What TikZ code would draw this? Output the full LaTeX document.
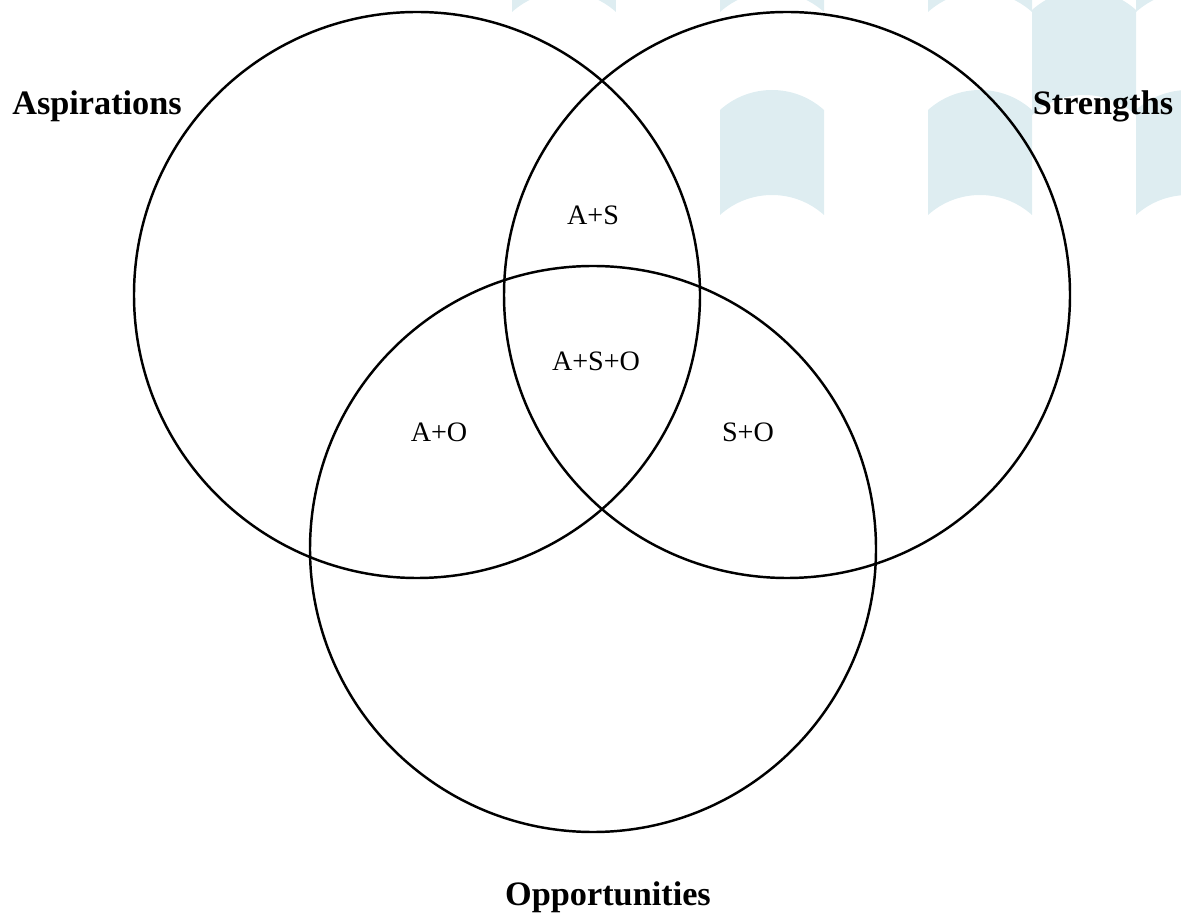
\documentclass[tikz,border=0pt]{standalone}
\usepackage{fontspec}
\setmainfont{Liberation Serif}

\definecolor{wmblue}{RGB}{222,237,241}

% one tile of the faint background pattern, (#1,#2) = its upper left corner
\newcommand{\archtile}[2]{%
  \fill[wmblue] (#1, #2) arc (132.07:47.93:1.552) -- ++(0, -2.1)
    arc (47.93:132.07:1.552) -- cycle;}

\tikzset{
  setname/.style={font=\fontsize{19.5}{22}\selectfont\bfseries, anchor=base},
  zonename/.style={font=\fontsize{16}{19}\selectfont, anchor=base},
}

\begin{document}
\begin{tikzpicture}
  \clip (0, 0) rectangle (23.62, 18.24);

  \archtile{10.24}{20.1}
  \archtile{14.4}{20.1}
  \archtile{14.4}{16.04}
  \archtile{18.56}{20.1}
  \archtile{18.56}{16.04}
  \archtile{20.64}{18.04}
  \archtile{22.72}{20.1}
  \archtile{22.72}{16.04}

  \draw[line width=1.4pt] (8.34, 12.34) circle (5.66cm);
  \draw[line width=1.4pt] (15.74, 12.34) circle (5.66cm);
  \draw[line width=1.4pt] (11.86, 7.26) circle (5.66cm);

  \node[setname] (asp) at (1.94, 15.94) {Aspirations};
  \node[setname] (str) at (22.06, 15.94) {Strengths};
  \node[setname] (opp) at (12.16, 0.14) {Opportunities};

  \node[zonename] (as) at (11.86, 13.74) {A+S};
  \node[zonename] (aso) at (11.92, 10.82) {A+S+O};
  \node[zonename] (ao) at (8.78, 9.4) {A+O};
  \node[zonename] (so) at (14.96, 9.4) {S+O};
\end{tikzpicture}
\end{document}
